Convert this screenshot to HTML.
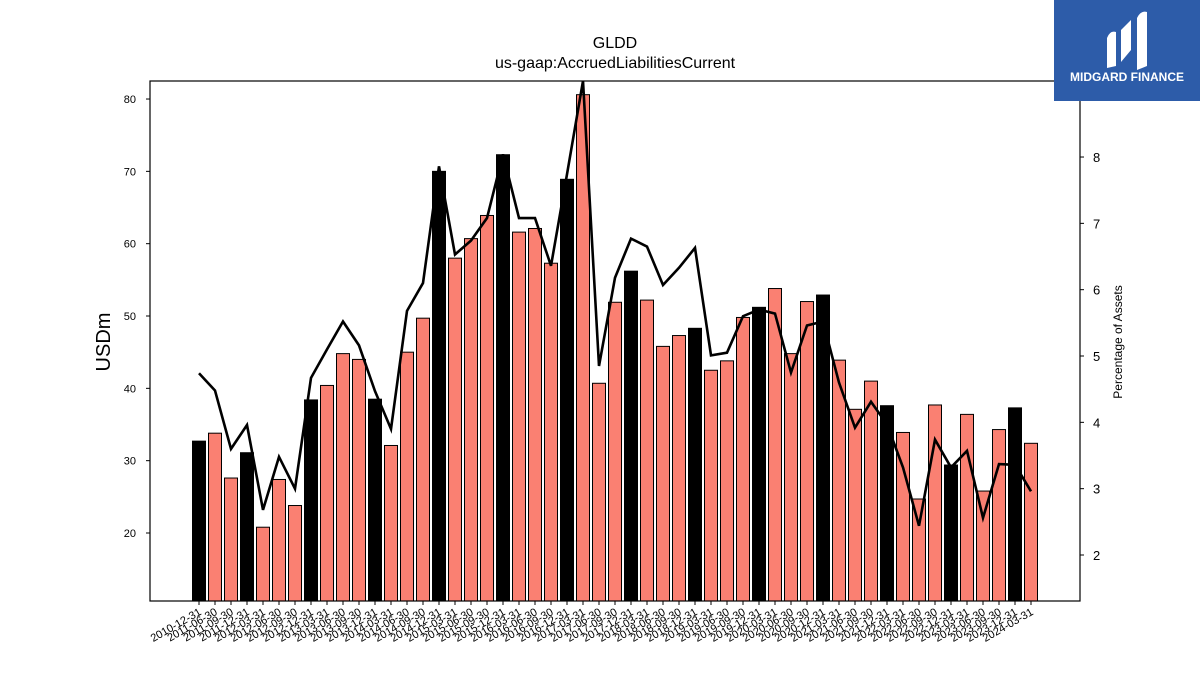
<!DOCTYPE html>
<html><head><meta charset="utf-8"><style>
body{margin:0;background:#fff;width:1200px;height:675px;overflow:hidden;font-family:"Liberation Sans",sans-serif}
</style></head><body>
<svg id="chart" width="1200" height="675" xmlns="http://www.w3.org/2000/svg" font-family="Liberation Sans, sans-serif">
<text x="615" y="48" text-anchor="middle" font-size="16">GLDD</text>
<text x="615" y="68" text-anchor="middle" font-size="16">us-gaap:AccruedLiabilitiesCurrent</text>
<g id="bars"></g>
<g id="line"></g>
<rect x="150" y="81" width="930" height="520" fill="none" stroke="#000" stroke-width="1.2"/>
<g id="axes"></g>
<text transform="translate(110,342) rotate(-90)" text-anchor="middle" font-size="20">USDm</text>
<text transform="translate(1122,342) rotate(-90)" text-anchor="middle" font-size="12">Percentage of Assets</text>
<g>
<rect x="1054" y="0" width="146" height="101" fill="#2d5ca9"/>
<path d="M1107 68 L1107 38 Q1110 30 1116 32 L1116 66 Z M1121 62 L1121 30 L1131 20 L1131 50 Z M1137 70 L1137 18 Q1141 10 1147 12 L1147 66 Z" fill="#fff"/>
<text x="1127" y="81" text-anchor="middle" fill="#fff" font-size="12" font-weight="bold">MIDGARD FINANCE</text>
</g>
</svg>
<script>
const labels=["2010-12-31","2011-06-30","2011-09-30","2011-12-31","2012-03-31","2012-06-30","2012-09-30","2012-12-31","2013-03-31","2013-06-30","2013-09-30","2013-12-31","2014-03-31","2014-06-30","2014-09-30","2014-12-31","2015-03-31","2015-06-30","2015-09-30","2015-12-31","2016-03-31","2016-06-30","2016-09-30","2016-12-31","2017-03-31","2017-06-30","2017-09-30","2017-12-31","2018-03-31","2018-06-30","2018-09-30","2018-12-31","2019-03-31","2019-06-30","2019-09-30","2019-12-31","2020-03-31","2020-06-30","2020-09-30","2020-12-31","2021-03-31","2021-06-30","2021-09-30","2021-12-31","2022-03-31","2022-06-30","2022-09-30","2022-12-31","2023-03-31","2023-06-30","2023-09-30","2023-12-31","2024-03-31"];
const values=[32.7,33.8,27.6,31.1,20.8,27.4,23.8,38.4,40.4,44.8,44.0,38.5,32.1,45.0,49.7,70.0,58.0,60.7,63.9,72.3,61.6,62.1,57.3,68.9,80.6,40.7,51.9,56.2,52.2,45.8,47.3,48.3,42.5,43.8,49.8,51.2,53.8,44.8,52.0,52.9,43.9,37.1,41.0,37.6,33.9,24.7,37.7,29.4,36.4,25.8,34.3,37.3,32.4];
const pct=[4.74,4.48,3.60,3.96,2.68,3.48,3.00,4.67,5.10,5.52,5.16,4.47,3.90,5.68,6.10,7.86,6.53,6.74,7.08,8.04,7.08,7.08,6.36,7.74,9.2,4.85,6.18,6.77,6.65,6.07,6.33,6.63,5.01,5.05,5.60,5.70,5.64,4.75,5.46,5.52,4.60,3.92,4.31,3.97,3.32,2.44,3.74,3.32,3.57,2.56,3.37,3.36,2.96];
const leftTicks=[20,30,40,50,60,70,80];
const rightTicks=[2,3,4,5,6,7,8];
const NS="http://www.w3.org/2000/svg";
const yL=v=>533-(v-20)*7.233;
const yR=v=>555-(v-2)*66.33;
const xB=i=>199+i*16;
const plotBottom=601;
function mk(tag,attrs,parent){const e=document.createElementNS(NS,tag);for(const k in attrs)e.setAttribute(k,attrs[k]);parent.appendChild(e);return e;}
const bars=document.getElementById('bars'),axes=document.getElementById('axes'),line=document.getElementById('line');
values.forEach((v,i)=>{
  const black=labels[i].endsWith('12-31');
  const r=mk('rect',{x:xB(i)-6.5,y:yL(v),width:13,height:plotBottom-yL(v),fill:black?'#000':'#fa8072',stroke:'#000','stroke-width':1},bars);
  
  
  const t=mk('line',{x1:xB(i),x2:xB(i),y1:601,y2:605,stroke:'#000'},axes);
  
  
  const tx=mk('text',{transform:`translate(${xB(i)+3},${614}) rotate(-30)`,'text-anchor':'end','font-size':11},axes);
  tx.textContent=labels[i];
  
  
});
const pts=pct.map((p,i)=>xB(i)+','+Math.max(81,yR(p))).join(' ');
const pl=mk('polyline',{points:pts,fill:'none',stroke:'#000','stroke-width':2.6,'stroke-linejoin':'miter'},line);


leftTicks.forEach(v=>{
  const l=mk('line',{x1:146,x2:150,y1:yL(v),y2:yL(v),stroke:'#000'},axes);
  
  
  const t=mk('text',{x:136,y:yL(v)+4,'text-anchor':'end','font-size':11},axes);
  t.textContent=v;
  
  
});
rightTicks.forEach(v=>{
  const l=mk('line',{x1:1080,x2:1084,y1:yR(v),y2:yR(v),stroke:'#000'},axes);
  
  
  const t=mk('text',{x:1093,y:yR(v)+5,'font-size':13},axes);
  t.textContent=v;
  
  
});
</script>
</body></html>
